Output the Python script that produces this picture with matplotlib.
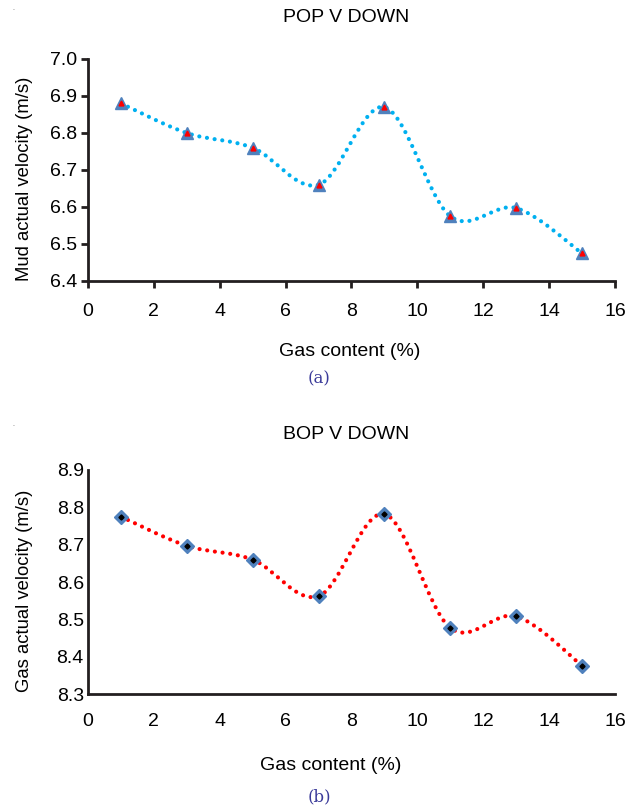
import numpy as np
import matplotlib
matplotlib.use('Agg')
import matplotlib.pyplot as plt
from matplotlib.path import Path
from matplotlib.patches import PathPatch

plt.rcParams['font.family'] = ['Liberation Sans', 'DejaVu Sans']

gas = [1, 3, 5, 7, 9, 11, 13, 15]
mud_v = [6.88, 6.80, 6.76, 6.66, 6.87, 6.575, 6.597, 6.475]
gas_v = [8.775, 8.697, 8.66, 8.562, 8.782, 8.477, 8.508, 8.376]

xticks = [0, 2, 4, 6, 8, 10, 12, 14, 16]
mud_ticks = [6.4, 6.5, 6.6, 6.7, 6.8, 6.9, 7.0]
gas_ticks = [8.3, 8.4, 8.5, 8.6, 8.7, 8.8, 8.9]


def smooth_path(x, y, xr, yr):
    # Excel style smoothed line: Catmull-Rom as cubic bezier, in scaled space
    sx = np.asarray(x, float) / (xr[1] - xr[0])
    sy = np.asarray(y, float) / (yr[1] - yr[0])
    p = np.column_stack([sx, sy])
    verts = [p[0]]
    codes = [Path.MOVETO]
    n = len(p)
    for i in range(n - 1):
        p0 = p[i - 1] if i > 0 else p[i]
        p3 = p[i + 2] if i + 2 < n else p[i + 1]
        c1 = p[i] + (p[i + 1] - p0) / 6
        c2 = p[i + 1] - (p3 - p[i]) / 6
        verts += [c1, c2, p[i + 1]]
        codes += [Path.CURVE4] * 3
    v = np.array(verts)
    v[:, 0] *= (xr[1] - xr[0])
    v[:, 1] *= (yr[1] - yr[0])
    return Path(v, codes)


fig = plt.figure(figsize=(6.39, 8.07), dpi=100)

panels = [
    dict(rect=[0.1377, 0.6518, 0.8247, 0.2751], y=mud_v, yt=mud_ticks,
         title='POP V DOWN', ylabel='Mud actual velocity (m/s)',
         lc='#00B0F0', mk='^', inner='#FF0000', ticks=True,
         ty=0.9777, xlx=0.548, xly=0.565, tag='(a)', tagy=0.530, doty=0.990),
    dict(rect=[0.1377, 0.1400, 0.8247, 0.2776], y=gas_v, yt=gas_ticks,
         title='BOP V DOWN', ylabel='Gas actual velocity (m/s)',
         lc='#FF0000', mk='D', inner='#000000', ticks=False,
         ty=0.461, xlx=0.517, xly=0.052, tag='(b)', tagy=0.0124, doty=0.474),
]

for pn in panels:
    ax = fig.add_axes(pn['rect'])
    xr = (0, 16)
    yr = (pn['yt'][0], pn['yt'][-1])
    ax.set_xlim(*xr)
    ax.set_ylim(*yr)
    patch = PathPatch(smooth_path(gas, pn['y'], xr, yr), fill=False,
                      edgecolor=pn['lc'], lw=3.0, linestyle=(0, (0.01, 1.85)),
                      capstyle='round', clip_on=False, zorder=2)
    ax.add_patch(patch)
    if pn['mk'] == '^':
        ax.plot(gas, pn['y'], ls='none', marker='^', ms=9, mfc='#4F81BD',
                mec='#4F81BD', zorder=3, clip_on=False)
        ax.plot(gas, pn['y'], ls='none', marker='^', ms=3.5, mfc=pn['inner'],
                mec=pn['inner'], zorder=4, clip_on=False)
    else:
        ax.plot(gas, pn['y'], ls='none', marker='D', ms=7, mfc='#4F81BD',
                mec='#4F81BD', zorder=3, clip_on=False)
        ax.plot(gas, pn['y'], ls='none', marker='D', ms=2.6, mfc=pn['inner'],
                mec=pn['inner'], zorder=4, clip_on=False)

    ax.set_xticks(xticks)
    ax.set_yticks(pn['yt'])
    ax.set_yticklabels([f'{v:.1f}' for v in pn['yt']])
    for s in ['top', 'right']:
        ax.spines[s].set_visible(False)
    for s in ['left', 'bottom']:
        ax.spines[s].set_linewidth(2.0)
        ax.spines[s].set_color('#231f20')
    if pn['ticks']:
        ax.tick_params(axis='both', direction='out', length=5, width=2.0,
                       color='#231f20', labelsize=14)
        ax.tick_params(axis='x', pad=11)
    else:
        ax.tick_params(axis='both', length=0, labelsize=14)
        ax.tick_params(axis='x', pad=14)
    ax.tick_params(axis='y', pad=3)
    ax.set_ylabel(pn['ylabel'], fontsize=13.3)
    ax.yaxis.set_label_coords(-0.104, 0.46)

    fig.text(0.542, pn['ty'], pn['title'], ha='center', va='center', fontsize=14)
    fig.text(pn['xlx'], pn['xly'], 'Gas content (%)', ha='center', va='center',
             fontsize=14)
    fig.text(0.50, pn['tagy'], pn['tag'], ha='center', va='center', fontsize=12,
             family='DejaVu Serif', color='#3b3b9a')
    fig.text(0.021, pn['doty'], '.', ha='center', va='center', fontsize=5,
             color='#555555')

fig.savefig('out.png', dpi=100)
